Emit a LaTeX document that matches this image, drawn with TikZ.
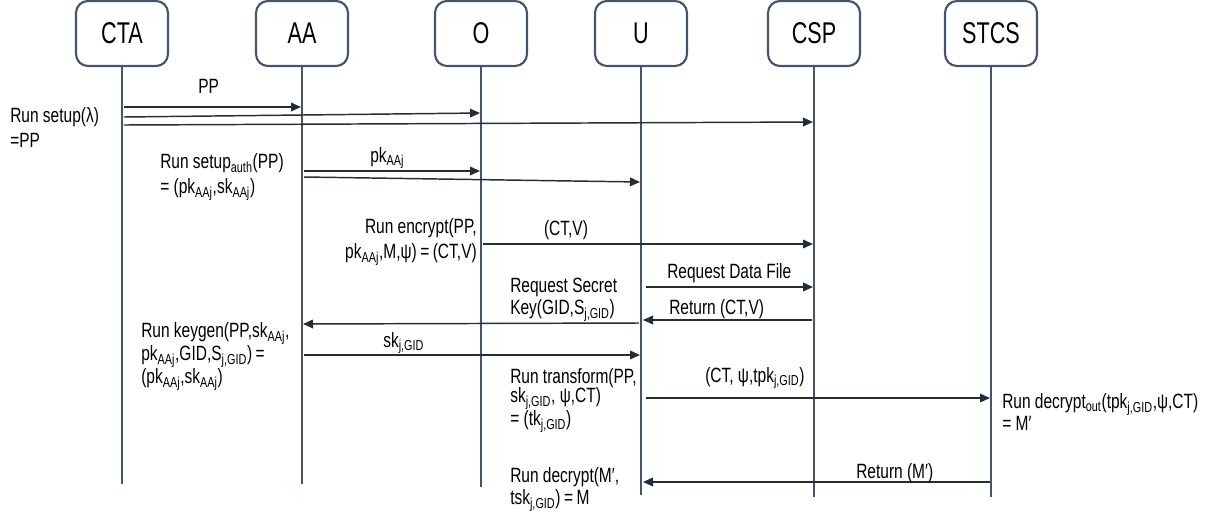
\documentclass[tikz,border=0pt]{standalone}
\usepackage{fontspec}
\setmainfont[FakeStretch=0.75]{Liberation Sans}
\newfontfamily\boxfont[FakeStretch=0.72]{Liberation Sans}
\usetikzlibrary{arrows.meta}
\definecolor{lifec}{HTML}{44546A}
\definecolor{msgc}{HTML}{262C36}
\begin{document}
\begin{tikzpicture}[x=0.75pt,y=-0.75pt,
  actor/.style={draw=lifec, line width=1.6pt, rounded corners=9pt, minimum width=69pt,
    minimum height=48.75pt, font=\boxfont\fontsize{22.5}{26}\selectfont, inner sep=0pt},
  life/.style={draw=lifec, line width=2pt},
  msg/.style={draw=msgc, line width=1.1pt, -{Triangle[length=7.5pt,width=6.5pt]}},
  lbl/.style={font=\fontsize{15.5}{18.75}\selectfont, inner sep=0pt, align=left, text=black},
  lbltight/.style={lbl, font=\fontsize{15.5}{14.6}\selectfont},
  lblmid/.style={lbl, font=\fontsize{15.5}{16.5}\selectfont},
]
\useasboundingbox (0,0) rectangle (1222,515);

% actors
\node[actor] (CTA) at (122,33.5) {CTA};
\node[actor] (AA) at (302,33.5) {AA};
\node[actor] (O) at (481,33.5) {O};
\node[actor] (U) at (641,33.5) {U};
\node[actor] (CSP) at (814,33.5) {CSP};
\node[actor] (STCS) at (991,33.5) {STCS};

% lifeline ends
\coordinate (CTAe) at (122,484);
\coordinate (AAe) at (302,484);
\coordinate (Oe) at (481,487);
\coordinate (Ue) at (641,495);
\coordinate (CSPe) at (814,497);
\coordinate (STCSe) at (991,497);
\draw[life] (CTA) -- (CTAe);
\draw[life] (AA) -- (AAe);
\draw[life] (O) -- (Oe);
\draw[life] (U) -- (Ue);
\draw[life] (CSP) -- (CSPe);
\draw[life] (STCS) -- (STCSe);

% message end points
\coordinate (m1s) at (124,107); \coordinate (m1e) at (301,107);
\coordinate (m2s) at (124,117); \coordinate (m2e) at (480,113);
\coordinate (m3s) at (124,125); \coordinate (m3e) at (813,122);
\coordinate (m4s) at (304,171); \coordinate (m4e) at (480,171);
\coordinate (m5s) at (304,177); \coordinate (m5e) at (640,182);
\coordinate (m6s) at (483,244); \coordinate (m6e) at (813,244);
\coordinate (m7s) at (646,287); \coordinate (m7e) at (813,287);
\coordinate (m8s) at (812,320); \coordinate (m8e) at (643,320);
\coordinate (m9s) at (639,323); \coordinate (m9e) at (303,324);
\coordinate (m10s) at (304,355); \coordinate (m10e) at (640,355);
\coordinate (m11s) at (646,398); \coordinate (m11e) at (990,398);
\coordinate (m12s) at (990,482); \coordinate (m12e) at (643,482);

\draw[msg] (m1s) -- (m1e);
\draw[msg] (m2s) -- (m2e);
\draw[msg] (m3s) -- (m3e);
\draw[msg] (m4s) -- (m4e);
\draw[msg] (m5s) -- (m5e);
\draw[msg] (m6s) -- (m6e);
\draw[msg] (m7s) -- (m7e);
\draw[msg] (m8s) -- (m8e);
\draw[msg] (m9s) -- (m9e);
\draw[msg] (m10s) -- (m10e);
\draw[msg] (m11s) -- (m11e);
\draw[msg] (m12s) -- (m12e);

% single-line labels
\node[lbl, anchor=base west] (lpp) at (198,93) {PP};
\node[lbl, anchor=base west] (lpk) at (370,162) {pk\textsubscript{AAj}};
\node[lbl, anchor=base] (lctv) at (566,235) {(CT,V)};
\node[lbl, anchor=base west] (lreq) at (667,278) {Request Data File};
\node[lbl, anchor=base west] (lret) at (669,314) {Return (CT,V)};
\node[lbl, anchor=base west] (lsk) at (383,347) {sk\textsubscript{j,GID}};
\node[lbl, anchor=base west] (ltpk) at (705,382) {(CT, ψ,tpk\textsubscript{j,GID})};
\node[lbl, anchor=base west] (lretm) at (856,478) {Return (M′)};

% multi-line labels
\node[lbl, anchor=north west] (lsetup) at (10,107) {Run setup(λ)\\=PP};
\node[lbl, anchor=north west] (lauth) at (160,153) {Run setup\textsubscript{auth}(PP)\\= (pk\textsubscript{AAj},sk\textsubscript{AAj})};
\node[lbl, anchor=north east, align=right] (lenc) at (477,218) {Run encrypt(PP,\\pk\textsubscript{AAj},M,ψ)\,=\,(CT,V)};
\node[lblmid, anchor=north west] (lrsk) at (510,278) {Request Secret\\Key(GID,S\textsubscript{j,GID})};
\node[lbltight, anchor=north west] (lkey) at (141,322) {Run keygen(PP,sk\textsubscript{AAj},\\pk\textsubscript{AAj},GID,S\textsubscript{j,GID})\,=\\(pk\textsubscript{AAj},sk\textsubscript{AAj})};
\node[lbltight, anchor=north west] (ltr) at (510,368) {Run transform(PP,\\sk\textsubscript{j,GID}, ψ,CT)\\= (tk\textsubscript{j,GID})};
\node[lbltight, anchor=north west] (ldo) at (1002,393) {Run decrypt\textsubscript{out}(tpk\textsubscript{j,GID},ψ,CT)\\= M′};
\node[lblmid, anchor=north west] (ldec) at (510,467) {Run decrypt(M′,\\tsk\textsubscript{j,GID})\,=\,M};
\end{tikzpicture}
\end{document}
